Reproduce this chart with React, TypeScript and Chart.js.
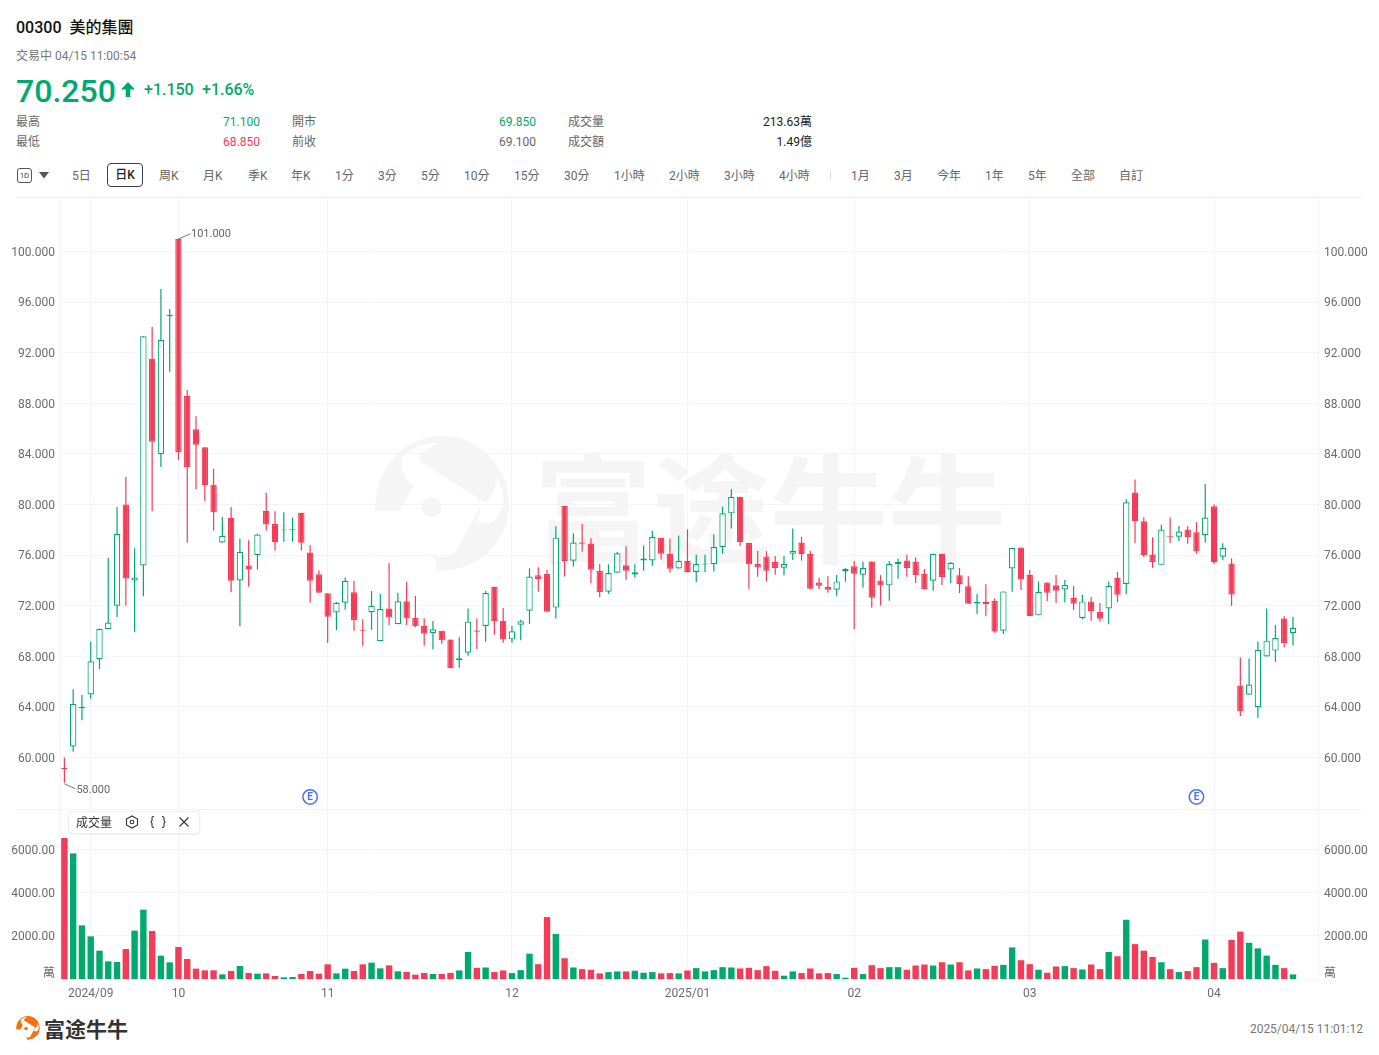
import React, { useEffect, useRef } from "react";
import { Chart, registerables } from "chart.js";

Chart.register(...registerables);

const opens = [59.2,60.87,63.9,64.98,67.77,70.15,72.0,80.0,74.0,75.18,91.53,83.97,94.9,101.0,88.6,85.94,84.52,81.57,77.0,78.95,73.99,75.18,76.0,79.5,78.45,77.97,77.97,79.34,76.2,74.49,72.99,71.46,72.23,73.06,70.1,71.48,69.19,71.77,70.53,72.35,71.03,70.4,69.84,70.03,69.32,67.68,68.29,70.05,70.4,73.5,70.82,69.34,70.5,71.61,74.4,74.5,71.85,79.88,75.56,77.0,76.91,74.75,73.11,74.61,75.19,74.46,75.58,75.58,77.35,76.08,74.95,75.56,74.66,75.25,75.29,76.64,79.3,80.62,76.95,75.29,75.9,75.45,75.0,76.11,77.0,76.08,73.84,73.5,73.26,74.71,75.11,74.45,75.5,74.0,73.61,75.29,75.58,75.5,74.5,73.98,76.11,74.87,74.4,73.53,72.18,72.29,72.37,70.02,74.95,76.61,74.45,71.24,73.84,73.61,73.29,72.61,71.03,72.34,71.5,71.78,74.2,73.72,80.94,78.68,76.04,75.23,77.5,77.46,78.02,77.81,77.57,79.86,75.88,75.33,65.69,64.97,63.97,67.98,68.45,70.98,69.85];
const highs = [60.0,65.4,64.95,69.15,70.2,75.8,79.8,82.17,76.55,93.3,94.03,97.03,95.45,101.0,89.05,86.97,84.52,82.83,79.02,79.8,77.31,77.18,77.7,80.92,79.47,79.39,78.97,79.34,76.79,74.81,72.99,72.3,74.23,73.98,70.92,73.16,72.93,75.38,73.03,73.88,72.77,71.0,70.79,70.03,69.32,69.5,71.77,71.0,73.16,73.5,71.82,70.4,70.9,74.96,75.04,74.82,78.28,79.88,77.72,78.46,77.33,75.3,75.27,76.25,76.7,75.27,76.77,77.93,77.35,77.32,77.56,78.03,76.03,76.03,77.64,79.83,81.2,80.62,76.95,76.32,76.32,75.93,75.93,78.11,77.43,76.32,74.21,74.32,74.42,74.98,75.53,75.48,75.5,74.42,75.53,75.72,76.03,75.82,74.9,76.11,76.11,75.45,74.98,74.32,72.92,73.69,72.58,73.13,76.58,76.61,74.82,73.92,73.84,74.42,74.03,73.55,72.87,72.69,72.21,73.92,74.67,80.42,81.97,78.99,77.41,78.41,78.97,78.31,78.28,78.6,81.65,80.0,76.94,75.75,67.9,67.82,69.16,71.77,70.46,71.17,71.1];
const lows = [58.0,60.45,62.95,64.64,66.98,70.15,71.1,72.0,69.93,72.75,79.46,82.96,90.5,83.54,76.98,81.2,80.3,77.93,77.0,73.07,70.38,73.49,74.86,77.95,76.36,77.05,77.05,76.36,72.23,73.02,69.06,70.07,71.7,70.03,68.84,70.1,69.19,70.45,70.53,70.48,70.3,68.84,68.53,68.97,67.05,67.1,68.05,68.58,69.16,69.71,69.08,69.08,69.26,70.56,73.11,71.53,70.98,74.3,75.09,76.27,73.77,72.66,72.93,74.61,74.06,74.22,74.77,75.16,75.66,74.61,74.95,74.64,73.87,74.66,74.71,76.11,78.11,76.72,73.34,74.29,73.9,74.45,74.4,75.61,75.56,73.28,73.32,73.03,72.79,73.9,70.16,73.42,71.84,72.0,72.4,74.13,74.29,73.79,73.3,73.19,73.63,73.77,73.0,72.16,71.34,71.16,69.87,69.76,73.11,73.24,71.18,71.24,72.37,72.21,72.26,71.66,70.92,70.81,70.74,70.54,72.28,72.93,76.94,75.86,74.99,75.23,76.96,77.12,76.89,76.1,76.99,75.3,75.59,71.98,63.26,64.97,63.13,67.98,67.56,68.69,68.85];
const closes = [59.1,64.24,64.0,67.6,70.15,70.67,77.68,74.15,74.23,93.3,84.97,93.0,95.0,84.15,82.96,84.73,81.52,79.38,77.52,73.97,76.26,74.86,77.63,78.42,77.02,78.03,78.05,76.97,73.97,73.02,71.12,72.23,73.97,70.87,70.02,72.0,71.74,71.06,72.35,70.98,70.37,69.79,70.13,69.26,67.05,67.84,70.74,69.95,73.0,70.77,69.32,69.98,70.77,74.3,74.09,71.53,77.38,75.54,76.99,76.9,74.85,73.09,74.59,76.14,74.77,74.64,75.74,77.43,76.11,74.92,75.56,74.64,75.29,75.33,76.64,79.3,80.59,77.03,75.27,75.03,74.77,74.98,75.29,76.35,76.08,73.34,73.58,73.26,73.92,74.9,74.53,74.98,72.63,73.61,75.29,75.48,74.98,74.42,73.32,76.11,74.27,75.4,73.71,72.16,72.32,72.13,69.97,73.13,76.58,74.08,71.18,73.08,73.03,73.19,73.63,72.16,72.34,71.58,70.97,73.58,72.86,80.18,78.68,75.99,75.46,78.02,77.42,77.86,77.44,76.28,78.97,75.44,76.57,72.88,63.68,65.77,68.5,69.24,69.45,69.06,70.25];
const volumes = [6506,5800,2477,1969,1308,815,785,1385,2231,3200,2215,1077,769,1477,923,477,400,400,215,369,600,277,246,261,138,77,92,230,369,246,677,261,477,369,677,754,492,630,354,323,200,277,230,230,285,395,1246,517,532,319,395,274,410,1170,684,2858,2082,958,532,456,426,258,319,350,350,380,289,319,258,274,258,395,502,350,410,547,532,486,517,410,593,380,152,350,274,486,258,274,228,61,517,228,638,502,547,547,426,623,669,623,775,669,775,395,486,456,608,654,1459,866,684,426,289,578,593,502,441,669,456,1246,1049,2736,1611,1307,1018,775,456,319,365,547,1824,745,502,1809,2189,1672,1414,1079,654,502,213];

const monthIndexes = [3,13,30,51,71,90,110,131];
const monthLabels = ["2024/09","10","11","12","2025/01","02","03","04"];
const priceTicks = [60,64,68,72,76,80,84,88,92,96,100];
const volumeTicks = [2000,4000,6000];
const volumeUnitLabel = "萬";
const volumeUnitTick = 323;
const highLabel = "101.000";
const lowLabel = "58.000";
const highIndex = 13;
const lowIndex = 0;
const earningsIndexes = [28,129];

const topRows = [
  [["最高","71.100","#00a96e"],["開市","69.850","#00a96e"],["成交量","213.63萬","#222"]],
  [["最低","68.850","#f33c58"],["前收","69.100","#666"],["成交額","1.49億","#222"]],
];
const periods: [string, number][] = [["5日",72],["周K",159],["月K",203],["季K",248],["年K",291],["1分",335],["3分",378],["5分",421],["10分",464],["15分",514],["30分",564],["1小時",614],["2小時",669],["3小時",724],["4小時",779],["1月",851],["3月",894],["今年",937],["1年",985],["5年",1028],["全部",1071],["自訂",1119]];

const GREEN = "#00a96e";
const RED = "#f33c58";
const GRID = "#f4f4f5";
const TEXT = "#6b6b70";
const FONT = 'Roboto, "Noto Sans CJK TC", sans-serif';
const X_MIN = -0.5;
const X_MAX = 142.85;

const indexes = opens.map((_, i) => i);
const isUp = (i: number) => closes[i] >= opens[i];
const colors = indexes.map((i) => (isUp(i) ? GREEN : RED));
const bodyFills = indexes.map((i) => (isUp(i) ? "#ffffff" : RED));

function makeXScale(extra: any, fitHeight: number) {
  return {
    type: "linear",
    min: X_MIN,
    max: X_MAX,
    offset: false,
    afterBuildTicks: (s: any) => { s.ticks = monthIndexes.map((value) => ({ value })); },
    afterFit: (s: any) => { s.height = fitHeight; s.paddingLeft = 0; s.paddingRight = 0; },
    grid: { color: GRID, drawTicks: false, offset: false },
    ...extra,
  };
}

function fitY(width: number) {
  return (s: any) => { s.width = width; s.paddingTop = 0; s.paddingBottom = 0; };
}

const notesPlugin = {
  id: "notes",
  afterDatasetsDraw(chart: any) {
    const { ctx, scales } = chart;
    const x = scales.x, y = scales.y;
    ctx.save();
    ctx.strokeStyle = "#777";
    ctx.lineWidth = 1;
    ctx.font = `11px ${FONT}`;
    ctx.fillStyle = "#666";
    ctx.textBaseline = "middle";
    const hx = x.getPixelForValue(highIndex), hy = y.getPixelForValue(highs[highIndex]);
    ctx.beginPath(); ctx.moveTo(hx, hy); ctx.lineTo(hx + 12, hy - 5); ctx.stroke();
    ctx.fillText(highLabel, hx + 12.5, hy - 5);
    const lx = x.getPixelForValue(lowIndex), ly = y.getPixelForValue(lows[lowIndex]);
    ctx.beginPath(); ctx.moveTo(lx, ly + 1); ctx.lineTo(lx + 11, ly + 6); ctx.stroke();
    ctx.fillText(lowLabel, lx + 12, ly + 7);
    earningsIndexes.forEach((i) => {
      const ex = x.getPixelForValue(i), ey = y.getPixelForValue(56.88);
      ctx.beginPath(); ctx.arc(ex, ey, 7.2, 0, Math.PI * 2);
      ctx.fillStyle = "#fff"; ctx.fill();
      ctx.strokeStyle = "#4a72f0"; ctx.lineWidth = 1.5; ctx.stroke();
      ctx.fillStyle = "#4a72f0"; ctx.font = `700 10px ${FONT}`; ctx.textAlign = "center";
      ctx.fillText("E", ex, ey + 0.5);
    });
    ctx.restore();
  },
};

const logoPath = "M375 511 C375 470 402 436 442 436 C482 436 509 470 509 503 C509 542 480 571 436 571 L436 560 L427 552 C436 558 448 560 455 552 L480 508 C482 500 476 495 470 493 L421 462 C418 458 420 452 438 443 C415 443 398 455 402 467 C403 476 408 482 414 485 L400 511 Z";
const logoNotch = "M497 477 C503 490 505 500 503 505 C500 517 494 523 486 523 C481 523 478 522 476 520 C480 515 481 510 480 508 L480 499 C482 501 484 502 486 502 C491 500 495 490 497 477 Z";

function T({ x, y, right, size = 12, color = "#666", weight = 400, children }: any) {
  const pos: any = right !== undefined ? { right: 1379 - right } : { left: x };
  return (
    <span style={{ position: "absolute", top: y - 12, lineHeight: "24px", height: 24, fontSize: size, color, fontWeight: weight, whiteSpace: "pre", ...pos }}>
      {children}
    </span>
  );
}

export default function App() {
  const priceRef = useRef<HTMLCanvasElement>(null);
  const volRef = useRef<HTMLCanvasElement>(null);

  useEffect(() => {
    const yCommon = {
      type: "linear",
      grid: { color: GRID, drawTicks: false },
      border: { display: true, color: GRID },
    };
    const tickFont = { family: FONT, size: 12 };

    const price = new Chart(priceRef.current as any, {
      type: "bar",
      plugins: [notesPlugin],
      data: {
        datasets: [
          {
            label: "wick", order: 2, grouped: false, barThickness: 1.2, borderWidth: 0, inflateAmount: 0,
            data: indexes.map((i) => ({ x: i, y: [lows[i], highs[i]] })),
            backgroundColor: colors,
          },
          {
            label: "body", order: 1, grouped: false, barThickness: 6.4, borderWidth: 1.2, borderSkipped: false, inflateAmount: 0,
            data: indexes.map((i) => ({ x: i, y: [opens[i], closes[i]] })),
            backgroundColor: bodyFills,
            borderColor: colors,
          },
        ] as any,
      },
      options: {
        animation: false, responsive: false, maintainAspectRatio: false,
        layout: { padding: 0 },
        plugins: { legend: { display: false }, tooltip: { enabled: false } },
        scales: {
          x: makeXScale({ ticks: { display: false }, border: { display: false } }, 0),
          y: {
            ...yCommon, position: "left", min: 55.93, max: 104.23,
            afterBuildTicks: (s: any) => { s.ticks = priceTicks.map((value) => ({ value })); },
            afterFit: fitY(60),
            ticks: { font: tickFont, color: TEXT, padding: 5, labelOffset: 1.2, callback: (v: any) => Number(v).toFixed(3) },
          },
          y2: {
            ...yCommon, position: "right", min: 55.93, max: 104.23,
            afterBuildTicks: (s: any) => { s.ticks = priceTicks.map((value) => ({ value })); },
            afterFit: fitY(61),
            grid: { display: false, drawTicks: false },
            ticks: { font: tickFont, color: TEXT, padding: 6, labelOffset: 1.2, callback: (v: any) => Number(v).toFixed(3) },
          },
        },
      } as any,
    });

    const volTickList = [volumeUnitTick, ...volumeTicks];
    const volTickLabel = (v: any) => (v === volumeUnitTick ? volumeUnitLabel : Number(v).toFixed(2));
    const vol = new Chart(volRef.current as any, {
      type: "bar",
      data: {
        datasets: [
          {
            label: "volume", grouped: false, barThickness: 6.4, borderWidth: 0, inflateAmount: 0,
            data: indexes.map((i) => ({ x: i, y: volumes[i] })),
            backgroundColor: colors,
          },
        ] as any,
      },
      options: {
        animation: false, responsive: false, maintainAspectRatio: false,
        layout: { padding: 0 },
        plugins: { legend: { display: false }, tooltip: { enabled: false } },
        scales: {
          x: makeXScale({
            border: { display: true, color: GRID },
            ticks: {
              font: tickFont, color: TEXT, padding: 8, maxRotation: 0, autoSkip: false,
              callback: (v: any) => monthLabels[monthIndexes.indexOf(Number(v))],
            },
          }, 26),
          y: {
            ...yCommon, position: "left", min: 0, max: 7848,
            afterBuildTicks: (s: any) => { s.ticks = volTickList.map((value) => ({ value })); },
            afterFit: fitY(60),
            grid: { drawTicks: false, color: (c: any) => (c.tick && c.tick.value === volumeUnitTick ? "rgba(0,0,0,0)" : GRID) },
            ticks: { font: tickFont, color: TEXT, padding: 5, labelOffset: 1.6, callback: volTickLabel },
          },
          y2: {
            ...yCommon, position: "right", min: 0, max: 7848,
            afterBuildTicks: (s: any) => { s.ticks = volTickList.map((value) => ({ value })); },
            afterFit: fitY(61),
            grid: { display: false, drawTicks: false },
            ticks: { font: tickFont, color: TEXT, padding: 6, labelOffset: 1.6, callback: volTickLabel },
          },
        },
      } as any,
    });

    return () => { price.destroy(); vol.destroy(); };
  }, []);

  const rowColumns = [[16, 260], [292, 536], [568, 812]];
  return (
    <div style={{ position: "absolute", left: 0, top: 0, width: 1379, height: 1055, overflow: "hidden", background: "#fff", fontFamily: FONT }}>
      <T x={16} y={28} size={16} color="#111" weight={500}>00300  美的集團</T>
      <T x={16} y={56} color="#777">交易中 04/15 11:00:54</T>
      <T x={16} y={91} size={32} color={GREEN} weight={500}>70.250</T>
      <svg style={{ position: "absolute", left: 121, top: 82 }} width={14} height={15} viewBox="0 0 14 15">
        <path d="M7 0 L14 7.5 L9.3 7.5 L9.3 15 L4.7 15 L4.7 7.5 L0 7.5 Z" fill={GREEN} />
      </svg>
      <T x={144} y={90} size={16} color={GREEN} weight={500}>+1.150</T>
      <T x={202} y={90} size={16} color={GREEN} weight={500}>+1.66%</T>

      {topRows.map((row, r) =>
        row.map((cell, c) => (
          <React.Fragment key={`${r}-${c}`}>
            <T x={rowColumns[c][0]} y={122 + r * 20} color="#666">{cell[0]}</T>
            <T right={rowColumns[c][1]} y={122 + r * 20} color={cell[2]}>{cell[1]}</T>
          </React.Fragment>
        ))
      )}

      <div style={{ position: "absolute", left: 17, top: 168, width: 13, height: 13, border: "1px solid #555", borderRadius: 3, fontSize: 8, lineHeight: "13px", textAlign: "center", color: "#444" }}>1D</div>
      <svg style={{ position: "absolute", left: 39, top: 172 }} width={10} height={7} viewBox="0 0 10 7">
        <path d="M0 0 L10 0 L5 6.5 Z" fill="#555" />
      </svg>
      {periods.map(([label, x]) => (
        <T key={label} x={x} y={175.5} color="#666">{label}</T>
      ))}
      <div style={{ position: "absolute", left: 107, top: 163, width: 34, height: 22, border: "1px solid #3a4050", borderRadius: 4, fontSize: 12, fontWeight: 500, lineHeight: "22px", textAlign: "center", color: "#222" }}>日K</div>
      <div style={{ position: "absolute", left: 830, top: 170, width: 1, height: 10, background: "#ddd" }} />
      <div style={{ position: "absolute", left: 16, top: 197, width: 1347, height: 1, background: "#eeeeef" }} />
      <div style={{ position: "absolute", left: 16, top: 809, width: 1347, height: 1, background: GRID }} />

      <svg style={{ position: "absolute", left: 375, top: 436 }} width={135} height={136} viewBox="375 436 135 136">
        <path d={logoPath} fill="#f5f5f5" />
        <path d={logoNotch} fill="#fff" />
        <circle cx={431.5} cy={507} r={10} fill="#f5f5f5" />
      </svg>
      <div style={{ position: "absolute", left: 534, top: 433, fontSize: 118, lineHeight: "140px", fontWeight: 700, fontFamily: '"Noto Sans CJK SC", sans-serif', color: "#f5f5f5", whiteSpace: "pre" }}>富途牛牛</div>

      <canvas ref={priceRef} width={1379} height={611} style={{ position: "absolute", left: 0, top: 198, width: 1379, height: 611 }} />
      <canvas ref={volRef} width={1379} height={196} style={{ position: "absolute", left: 0, top: 809, width: 1379, height: 196 }} />

      <div style={{ position: "absolute", left: 68, top: 811, width: 130, height: 21, border: "1px solid #eee", borderRadius: 4, background: "#fff", boxShadow: "0 1px 2px rgba(0,0,0,0.06)" }} />
      <T x={76} y={823} color="#333">成交量</T>
      <svg style={{ position: "absolute", left: 125, top: 815 }} width={66} height={14} viewBox="0 0 66 14" fill="none" stroke="#333" strokeWidth={1.1}>
        <path d="M7 1 L12.5 4 L12.5 10 L7 13 L1.5 10 L1.5 4 Z" />
        <circle cx={7} cy={7} r={1.8} />
        <path d="M29 1.5 L28.5 1.5 Q27 1.5 27 3 L27 5.5 L26 7 L27 8.5 L27 11 Q27 12.5 28.5 12.5 L29 12.5" />
        <path d="M37 1.5 L37.5 1.5 Q39 1.5 39 3 L39 5.5 L40 7 L39 8.5 L39 11 Q39 12.5 37.5 12.5 L37 12.5" />
        <path d="M54.5 2.5 L63.5 11.5 M63.5 2.5 L54.5 11.5" />
      </svg>

      <svg style={{ position: "absolute", left: 16, top: 1016 }} width={24} height={24} viewBox="375 436 135 136">
        <path d={logoPath} fill="#f5700f" />
        <path d={logoNotch} fill="#fff" />
        <circle cx={431.5} cy={507} r={10} fill="#f5700f" />
      </svg>
      <div style={{ position: "absolute", left: 44, top: 1014, fontSize: 21, lineHeight: "28px", fontWeight: 700, fontFamily: '"Noto Sans CJK SC", sans-serif', color: "#333", whiteSpace: "pre" }}>富途牛牛</div>
      <T right={1363} y={1029} color="#777">2025/04/15 11:01:12</T>
    </div>
  );
}
